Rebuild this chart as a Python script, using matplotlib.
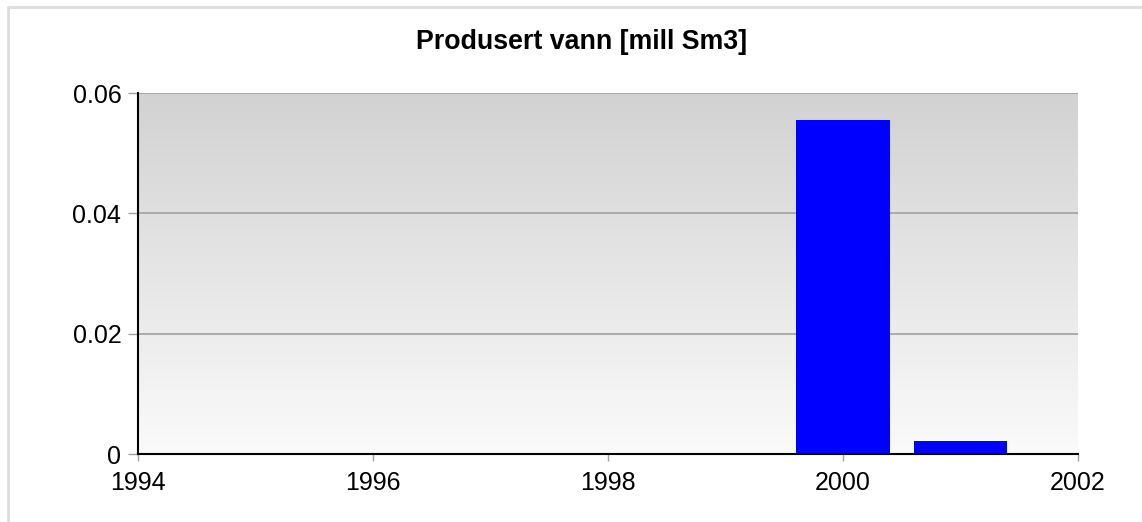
import matplotlib
matplotlib.use("Agg")
import matplotlib.pyplot as plt
import numpy as np
from matplotlib.lines import Line2D
from matplotlib.colors import LinearSegmentedColormap

years = [2000, 2001]
values = [0.0555, 0.0021]
xticks = [1994, 1996, 1998, 2000, 2002]
yticks = [0, 0.02, 0.04, 0.06]
ytick_labels = ["0", "0.02", "0.04", "0.06"]
title = "Produsert vann [mill Sm3]"

plt.rcParams['font.family'] = ['Liberation Sans', 'DejaVu Sans']

fig = plt.figure(figsize=(11.42, 5.22), dpi=100)
# light outer frame (top and left visible)
fig.lines.append(Line2D([8/1142, 8/1142, 1.0], [0.0, 1 - 7/522, 1 - 7/522],
                        transform=fig.transFigure, color='#dcdcdc', linewidth=2, zorder=0))

ax = fig.add_axes([138/1142, 1 - 454/522, (1078 - 138)/1142, (454 - 93)/522])
ax.set_xlim(1994, 2002)
ax.set_ylim(0, 0.06)

grad = np.linspace(0, 1, 256).reshape(-1, 1)
cmap = LinearSegmentedColormap.from_list('g', ['#fafafa', '#d2d2d2'])
ax.imshow(grad, extent=[1994, 2002, 0, 0.06], origin='lower', aspect='auto', cmap=cmap, zorder=0)

for y in yticks[1:]:
    ax.axhline(y, color='#a0a0a0', linewidth=1.2, zorder=1)

ax.bar(years, values, width=0.8, color='#0000ff', zorder=2)

ax.set_xticks(xticks)
ax.set_xticklabels([str(x) for x in xticks])
ax.set_yticks(yticks)
ax.set_yticklabels(ytick_labels)
ax.tick_params(axis='both', labelsize=18, color='#a0a0a0', width=1)
ax.tick_params(axis='y', length=7, pad=5)
ax.tick_params(axis='x', length=5, pad=7)

for s in ['top', 'right']:
    ax.spines[s].set_visible(False)
for s in ['left', 'bottom']:
    ax.spines[s].set_color('black')
    ax.spines[s].set_linewidth(1.5)
    ax.spines[s].set_zorder(3)

fig.text(581.5 / 1142, 1 - 42/522, title, ha='center', va='center',
         fontsize=19.3, fontweight='bold')

fig.savefig('out.png', dpi=100)
